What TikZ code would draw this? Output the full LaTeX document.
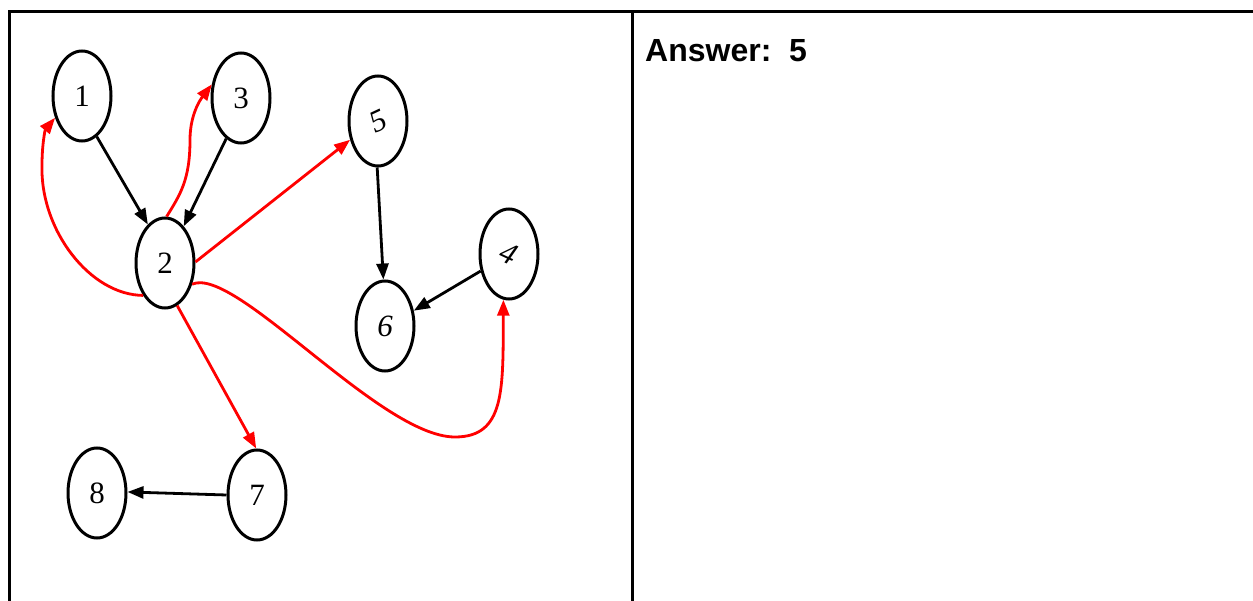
\documentclass[tikz,border=0pt]{standalone}
\usepackage{fontspec}
\setmainfont{Liberation Serif}
\newfontfamily\ansfont{Liberation Sans}
\usetikzlibrary{shapes.geometric,arrows.meta}
\tikzset{
  vtx/.style={ellipse, draw, line width=3pt, minimum width=58pt, minimum height=90pt, inner sep=0pt, font=\fontsize{31}{31}\selectfont},
  blk/.style={line width=2.8pt, -{Triangle[length=16pt,width=12pt]}},
  red/.style={line width=2.8pt, color=red, -{Triangle[length=16pt,width=12pt]}},
  frame/.style={line width=3pt}
}
\begin{document}
\begin{tikzpicture}[x=1pt,y=-1pt]
\useasboundingbox (0,0) rectangle (1253,601);
% frame
\coordinate (tl) at (9,12);
\coordinate (tr) at (1253,12);
\coordinate (bl) at (9,601);
\coordinate (mt) at (632,12);
\coordinate (mb) at (632,601);
\draw[frame] (bl) -- (tl) -- (tr);
\draw[frame] (mt) -- (mb);
\node[anchor=base west, inner sep=0pt, font=\ansfont\bfseries\fontsize{32}{32}\selectfont] (ans) at (645,62) {Answer:\ \ 5};
% vertices
\node[vtx] (n1) at (82,96) {1};
\node[vtx] (n3) at (241,98) {3};
\node[vtx] (n2) at (165,263) {2};
\node[vtx] (n5) at (378,121) {\rotatebox{25}{\itshape 5}};
\node[vtx] (n4) at (509,254) {\rotatebox{-25}{\itshape 4}};
\node[vtx] (n6) at (385,326) {\itshape 6};
\node[vtx] (n8) at (97,493) {8};
\node[vtx] (n7) at (257,495) {7};
% black edges
\draw[blk] (n1.-70) -- (n2.114);
\draw[blk] (n3.-110) -- (n2.63);
\draw[blk] (n5.-91) -- (n6.92);
\draw[blk] (n4.-149) -- (n6.28);
\draw[blk] (n7.180) -- (n8.2);
% red edges
\draw[red] (n2.2) -- (n5.-146);
\draw[red] (n2.-74) -- (n7.91);
\draw[red] (n2.88) .. controls (180,195) and (190,180) .. (190,140) .. controls (190,115) and (200,100) .. (n3.155);
\draw[red] (n2.-124) .. controls (90,295) and (40,230) .. (42,165) .. controls (42,145) and (45,130) .. (n1.-141);
\draw[red] (n2.-38) .. controls (235,265) and (380,437) .. (455,437) .. controls (505,437) and (503,390) .. (n4.-97);
\end{tikzpicture}
\end{document}
